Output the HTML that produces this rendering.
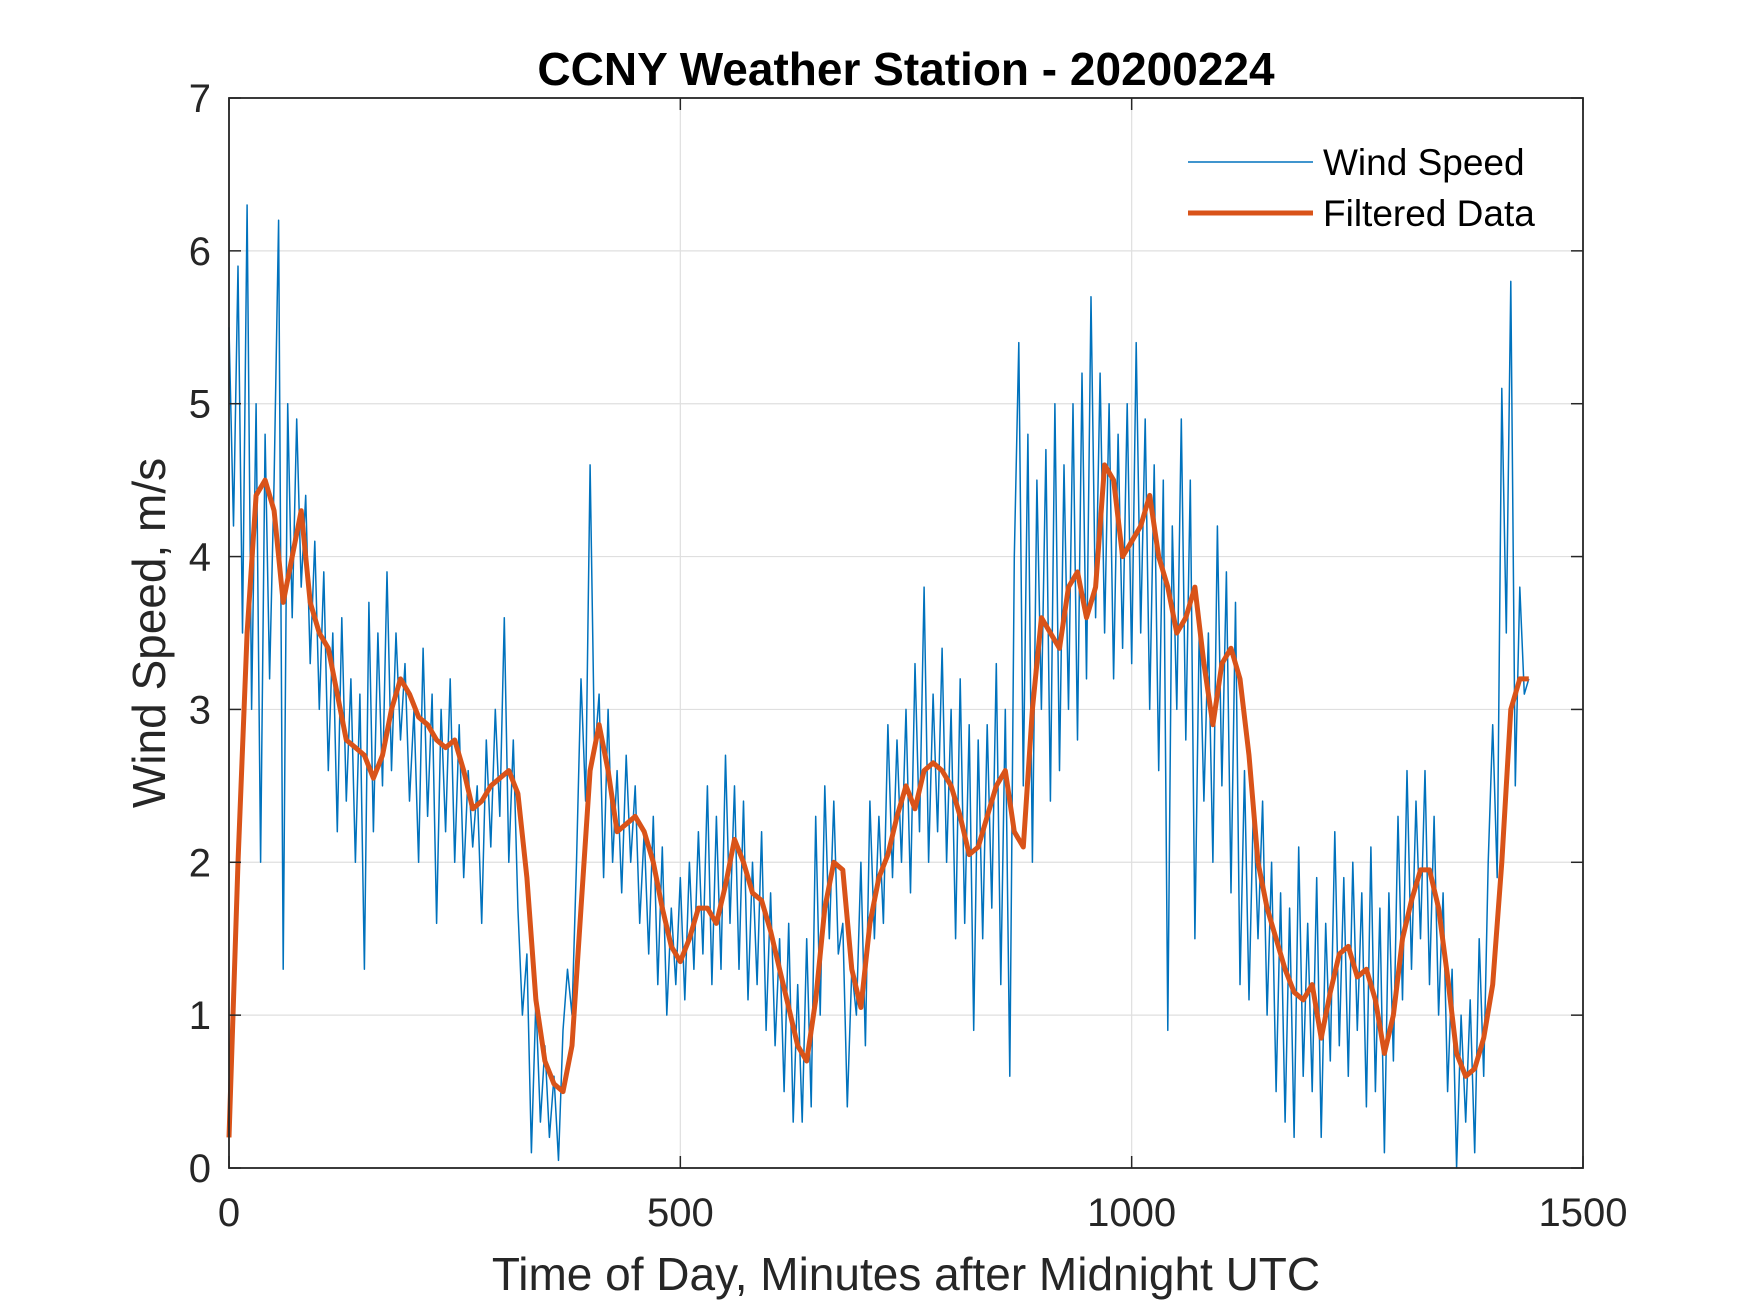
<!DOCTYPE html>
<html><head><meta charset="utf-8"><style>
html,body{margin:0;padding:0;background:#fff;}
svg{display:block;font-family:"Liberation Sans",Arial,sans-serif;}
</style></head><body>
<svg id="chart" width="1750" height="1313" viewBox="0 0 1750 1313" xmlns="http://www.w3.org/2000/svg">
<rect width="1750" height="1313" fill="#fff"/>
<g id="grid"></g>
<g id="series"></g>
<g id="axes"></g>
<text x="906" y="85" text-anchor="middle" font-size="46" font-weight="bold" fill="#000">CCNY Weather Station - 20200224</text>
<text x="906" y="1290" text-anchor="middle" font-size="46" fill="#262626">Time of Day, Minutes after Midnight UTC</text>
<text transform="translate(165,633) rotate(-90)" text-anchor="middle" font-size="46" fill="#262626">Wind Speed, m/s</text>
<g>
<line x1="1188" y1="162" x2="1313" y2="162" stroke="#0072BD" stroke-width="1.5"/>
<text x="1323" y="175" font-size="37" fill="#000">Wind Speed</text>
<line x1="1188" y1="213" x2="1313" y2="213" stroke="#D95319" stroke-width="5"/>
<text x="1323" y="226" font-size="37" fill="#000">Filtered Data</text>
</g>
</svg>
<script>
const xTicks = [0, 500, 1000, 1500];
const yTicks = [0, 1, 2, 3, 4, 5, 6, 7];
const rawStep = 5;
const rawValues = [
5.5,4.2,5.9,3.5,6.3,3.0,5.0,2.0,4.8,3.2,4.5,6.2,
1.3,5.0,3.6,4.9,3.8,4.4,3.3,4.1,3.0,3.9,2.6,3.5,
2.2,3.6,2.4,3.2,2.0,3.1,1.3,3.7,2.2,3.5,2.5,3.9,
2.6,3.5,2.8,3.3,2.4,3.0,2.0,3.4,2.3,3.1,1.6,3.0,
2.2,3.2,2.0,2.9,1.9,2.6,2.1,2.5,1.6,2.8,2.1,3.0,
2.3,3.6,2.0,2.8,1.7,1.0,1.4,0.1,1.1,0.3,0.8,0.2,
0.6,0.05,0.9,1.3,1.0,2.0,3.2,2.4,4.6,2.7,3.1,1.9,
3.0,2.0,2.6,1.8,2.7,2.0,2.5,1.6,2.2,1.4,2.3,1.2,
2.1,1.0,1.7,1.2,1.9,1.1,2.0,1.3,2.2,1.4,2.5,1.2,
2.3,1.3,2.7,1.6,2.5,1.3,2.4,1.1,2.0,1.2,2.2,0.9,
1.8,0.8,1.5,0.5,1.6,0.3,1.2,0.3,1.5,0.4,2.3,1.0,
2.5,1.5,2.4,1.4,1.6,0.4,1.3,1.0,2.0,0.8,2.4,1.5,
2.3,1.6,2.9,1.9,2.8,2.0,3.0,1.8,3.3,2.2,3.8,2.0,
3.1,2.2,3.4,2.0,3.0,1.5,3.2,1.6,2.9,0.9,2.8,1.5,
2.9,1.7,3.3,1.2,3.0,0.6,4.0,5.4,2.5,4.8,2.0,4.5,
3.0,4.7,2.4,5.0,2.6,4.6,3.0,5.0,2.8,5.2,3.2,5.7,
3.6,5.2,3.5,5.0,3.2,4.8,3.4,5.0,3.3,5.4,3.5,4.9,
3.0,4.6,2.6,4.5,0.9,4.2,3.0,4.9,2.8,4.5,1.5,3.6,
2.4,3.5,2.0,4.2,2.5,3.9,1.8,3.7,1.2,2.6,1.1,2.4,
1.5,2.4,1.0,2.0,0.5,1.8,0.3,1.7,0.2,2.1,0.6,1.6,
0.5,1.9,0.2,1.6,0.7,2.2,0.8,1.9,0.6,2.0,0.9,1.8,
0.4,2.1,0.5,1.7,0.1,1.8,0.7,2.3,1.1,2.6,1.3,2.4,
1.5,2.6,1.2,2.3,1.0,1.8,0.5,1.3,0.0,1.0,0.3,1.1,
0.1,1.5,0.6,2.0,2.9,1.9,5.1,3.5,5.8,2.5,3.8,3.1,
3.2];
const filtStep = 10;
const filtValues = [
0.2,2.0,3.5,4.4,4.5,4.3,3.7,4.0,4.3,3.7,3.5,3.4,
3.1,2.8,2.75,2.7,2.55,2.7,3.0,3.2,3.1,2.95,2.9,2.8,
2.75,2.8,2.6,2.35,2.4,2.5,2.55,2.6,2.45,1.9,1.1,0.7,
0.55,0.5,0.8,1.7,2.6,2.9,2.6,2.2,2.25,2.3,2.2,2.0,
1.7,1.45,1.35,1.5,1.7,1.7,1.6,1.85,2.15,2.0,1.8,1.75,
1.55,1.3,1.05,0.8,0.7,1.1,1.7,2.0,1.95,1.3,1.05,1.6,
1.9,2.05,2.3,2.5,2.35,2.6,2.65,2.6,2.5,2.3,2.05,2.1,
2.3,2.5,2.6,2.2,2.1,3.0,3.6,3.5,3.4,3.8,3.9,3.6,
3.8,4.6,4.5,4.0,4.1,4.2,4.4,4.0,3.8,3.5,3.6,3.8,
3.3,2.9,3.3,3.4,3.2,2.7,2.0,1.7,1.5,1.3,1.15,1.1,
1.2,0.85,1.15,1.4,1.45,1.25,1.3,1.1,0.75,1.0,1.5,1.75,
1.95,1.95,1.7,1.25,0.75,0.6,0.65,0.85,1.2,2.0,3.0,3.2,
3.2];

const L=229,R=1583,T=98,B=1168;
const xMin=0,xMax=1500,yMin=0,yMax=7;
function xs(v){return L+(v-xMin)/(xMax-xMin)*(R-L);}
function ys(v){return B-(v-yMin)/(yMax-yMin)*(B-T);}
const NS="http://www.w3.org/2000/svg";
function mk(tag,attrs,parent){const e=document.createElementNS(NS,tag);for(const k in attrs)e.setAttribute(k,attrs[k]);parent.appendChild(e);return e;}
const grid=document.getElementById('grid'),axes=document.getElementById('axes'),series=document.getElementById('series');
xTicks.forEach(t=>{
  const g=mk('line',{x1:xs(t),x2:xs(t),y1:T,y2:B,stroke:'#dfdfdf','stroke-width':1.2},grid);
  
  
  const a=mk('line',{x1:xs(t),x2:xs(t),y1:B,y2:B-12,stroke:'#262626','stroke-width':1.5},axes);
  
  
  const b=mk('line',{x1:xs(t),x2:xs(t),y1:T,y2:T+12,stroke:'#262626','stroke-width':1.5},axes);
  
  
  const tx=mk('text',{x:xs(t),y:1226,'text-anchor':'middle','font-size':40,fill:'#262626'},axes);
  tx.textContent=t;
  
  
});
yTicks.forEach(t=>{
  const g=mk('line',{x1:L,x2:R,y1:ys(t),y2:ys(t),stroke:'#dfdfdf','stroke-width':1.2},grid);
  
  
  const a=mk('line',{x1:L,x2:L+12,y1:ys(t),y2:ys(t),stroke:'#262626','stroke-width':1.5},axes);
  
  
  const b=mk('line',{x1:R,x2:R-12,y1:ys(t),y2:ys(t),stroke:'#262626','stroke-width':1.5},axes);
  
  
  const tx=mk('text',{x:L-18,y:ys(t)+14,'text-anchor':'end','font-size':40,fill:'#262626'},axes);
  tx.textContent=t;
  
  
});
const box=mk('rect',{x:L,y:T,width:R-L,height:B-T,fill:'none',stroke:'#262626','stroke-width':1.8},axes);


const rawPts=rawValues.map((v,i)=>xs(i*rawStep).toFixed(1)+','+ys(v).toFixed(1)).join(' ');
const raw=mk('polyline',{points:rawPts,fill:'none',stroke:'#0072BD','stroke-width':1.5,'stroke-linejoin':'round'},series);


const filtPts=filtValues.map((v,i)=>xs(i*filtStep).toFixed(1)+','+ys(v).toFixed(1)).join(' ');
const filt=mk('polyline',{points:filtPts,fill:'none',stroke:'#D95319','stroke-width':5,'stroke-linejoin':'round'},series);


</script>
</body></html>
